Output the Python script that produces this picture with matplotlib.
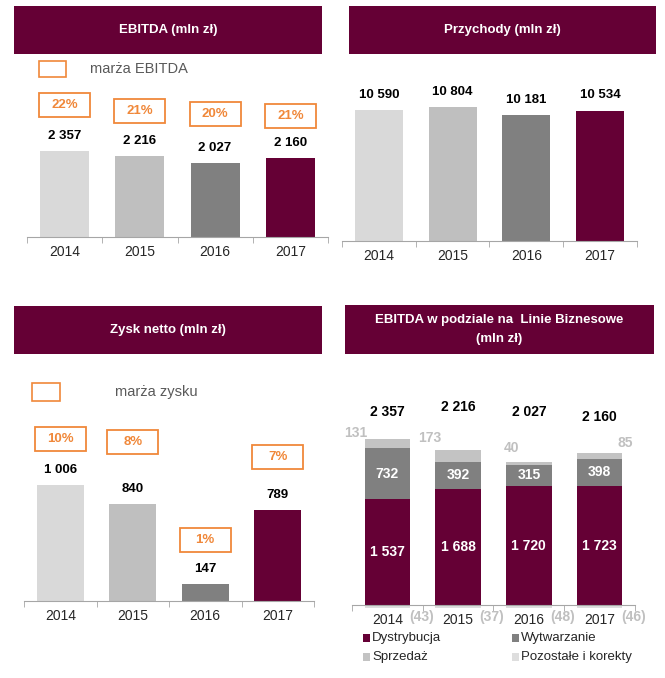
import numpy as np
import matplotlib
matplotlib.use('Agg')
import matplotlib.pyplot as plt
from matplotlib.patches import Rectangle
from matplotlib.transforms import ScaledTranslation

plt.rcParams['font.family'] = ['Liberation Sans', 'DejaVu Sans']

# Dane
years = ['2014', '2015', '2016', '2017']
ebitda = [2357, 2216, 2027, 2160]
ebitda_margin = ['22%', '21%', '20%', '21%']
revenue = [10590, 10804, 10181, 10534]
net_profit = [1006, 840, 147, 789]
profit_margin = ['10%', '8%', '1%', '7%']

# EBITDA wg linii biznesowych
dystrybucja = [1537, 1688, 1720, 1723]
wytwarzanie = [732, 392, 315, 398]
sprzedaz = [131, 173, 40, 85]
pozostale = [-43, -37, -48, -46]

# Kolory
MAROON = '#650035'
ORANGE = '#f0883a'
bar_colors = ['#d9d9d9', '#bfbfbf', '#808080', MAROON]
c_dys, c_wyt, c_sprz, c_poz = MAROON, '#808080', '#c3c3c3', '#dedede'

W, H = 665, 678
fig = plt.figure(figsize=(W / 100, H / 100), dpi=100)


def fmt(v):
    return f'{v:,}'.replace(',', ' ')


def px_axes(x0, x1, base, top):
    return fig.add_axes([x0 / W, 1 - base / H, (x1 - x0) / W, (base - top) / H])


def style_axis(ax):
    for s in ['top', 'right', 'left']:
        ax.spines[s].set_visible(False)
    ax.spines['bottom'].set_color('#a6a6a6')
    ax.set_yticks([])
    ax.set_xlim(-0.5, 3.5)
    ax.set_xticks(range(len(years)))
    ax.set_xticklabels(years, fontsize=10, color='#262626')
    ax.set_xticks(np.arange(-0.5, len(years), 1), minor=True)
    ax.tick_params(axis='x', which='major', length=0, pad=5.5)
    ax.tick_params(axis='x', which='minor', length=4, color='#a6a6a6')
    ax.patch.set_visible(False)


def header(x0, x1, y0, y1, text):
    fig.add_artist(Rectangle((x0 / W, 1 - y1 / H), (x1 - x0) / W, (y1 - y0) / H,
                             transform=fig.transFigure, facecolor=MAROON,
                             edgecolor='none'))
    fig.text((x0 + x1) / 2 / W, 1 - (y0 + y1) / 2 / H, text, color='white',
             fontsize=9.5, fontweight='bold', ha='center', va='center',
             linespacing=1.7)


def margin_box(ax, i, v, dy_px, label):
    # ramka o stalym rozmiarze (w calach) przesunieta nad slupek
    tr = fig.dpi_scale_trans + ScaledTranslation(i, v, ax.transData)
    ax.add_artist(Rectangle((-0.255, dy_px / 100 - 0.12), 0.51, 0.24, transform=tr,
                            facecolor='white', edgecolor=ORANGE, lw=1.3,
                            clip_on=False))
    ax.annotate(label, (i, v), xytext=(0, dy_px * 0.72), textcoords='offset points',
                ha='center', va='center', color=ORANGE, fontsize=9.5,
                fontweight='bold')


def simple_bars(ax, values, ymax):
    ax.bar(range(len(values)), values, width=0.65, color=bar_colors)
    ax.set_ylim(0, ymax)
    for i, v in enumerate(values):
        ax.annotate(fmt(v), (i, v), xytext=(0, 11), textcoords='offset points',
                    ha='center', va='center', fontsize=9.5, fontweight='bold')
    style_axis(ax)


def legend_box(x0, y0, x1, y1, text, tx):
    fig.add_artist(Rectangle((x0 / W, 1 - y1 / H), (x1 - x0) / W, (y1 - y0) / H,
                             transform=fig.transFigure, facecolor='white',
                             edgecolor=ORANGE, lw=1.2))
    fig.text(tx / W, 1 - (y0 + y1) / 2 / H, text, color='#595959', fontsize=10.5,
             ha='left', va='center')


# --- EBITDA ---
header(14, 322, 6, 54, 'EBITDA (mln zł)')
ax1 = px_axes(27, 328, 237, 60)
simple_bars(ax1, ebitda, 4850)
for i, (v, m, dy) in enumerate(zip(ebitda, ebitda_margin, [46, 45, 49, 42])):
    margin_box(ax1, i, v, dy, m)
legend_box(39, 61, 66, 77, 'marża EBITDA', 90)

# --- Przychody ---
header(349, 656, 6, 54, 'Przychody (mln zł)')
ax2 = px_axes(342, 637, 241, 60)
simple_bars(ax2, revenue, 14630)

# --- Zysk netto ---
header(14, 322, 306, 354, 'Zysk netto (mln zł)')
ax3 = px_axes(24, 314, 601, 370)
simple_bars(ax3, net_profit, 2003)
for i, (v, m, dy) in enumerate(zip(net_profit, profit_margin, [46, 62, 44, 53])):
    margin_box(ax3, i, v, dy, m)
legend_box(32, 383, 60, 401, 'marża zysku', 115)

# --- EBITDA wg linii biznesowych ---
header(345, 654, 305, 354, 'EBITDA w podziale na  Linie Biznesowe\n(mln zł)')
ax4 = px_axes(352, 635, 605, 380)
x = np.arange(len(years))
bw = 0.64
dys = np.array(dystrybucja)
wyt = np.array(wytwarzanie)
spr = np.array(sprzedaz)
ax4.bar(x, dys, width=bw, color=c_dys)
ax4.bar(x, wyt, width=bw, bottom=dys, color=c_wyt)
ax4.bar(x, spr, width=bw, bottom=dys + wyt, color=c_sprz)
ax4.bar(x, pozostale, width=bw, color=c_poz, clip_on=False)
ax4.set_ylim(0, 3262)
style_axis(ax4)

totals = dys + wyt + spr + np.array(pozostale)
tops = dys + wyt + spr
total_dy = [27, 43, 50, 36]
sprz_dx = [-32, -28, -17, 26]
sprz_dy = [6, 12, 14, 10]
for i in range(len(years)):
    ax4.annotate(fmt(int(totals[i])), (i, tops[i]), xytext=(0, total_dy[i] * 0.72),
                 textcoords='offset points', ha='center', va='center',
                 fontsize=10, fontweight='bold')
    ax4.text(i, dys[i] / 2, fmt(dys[i]), ha='center', va='center', color='white',
             fontsize=10, fontweight='bold')
    ax4.text(i, dys[i] + wyt[i] / 2, fmt(wyt[i]), ha='center', va='center',
             color='white', fontsize=10, fontweight='bold')
    ax4.annotate(fmt(spr[i]), (i, tops[i]),
                 xytext=(sprz_dx[i] * 0.72, sprz_dy[i] * 0.72),
                 textcoords='offset points', ha='center', va='center',
                 color='#c0c0c0', fontsize=10, fontweight='bold')
    ax4.annotate(f'({-pozostale[i]})', (i, 0), xytext=(34 * 0.72, -12 * 0.72),
                 textcoords='offset points', ha='center', va='center',
                 color='#c0c0c0', fontsize=10, fontweight='bold',
                 annotation_clip=False)

# legenda
leg_items = [('Dystrybucja', c_dys, 363, 638), ('Wytwarzanie', c_wyt, 512, 638),
             ('Sprzedaż', c_sprz, 363, 657), ('Pozostałe i korekty', c_poz, 512, 657)]
for name, col, lx, ly in leg_items:
    fig.add_artist(Rectangle((lx / W, 1 - (ly + 4) / H), 7 / W, 8 / H,
                             transform=fig.transFigure, facecolor=col,
                             edgecolor='none'))
    fig.text((lx + 9) / W, 1 - ly / H, name, fontsize=9.5, color='#262626',
             ha='left', va='center')

fig.savefig('out.png', dpi=100)
